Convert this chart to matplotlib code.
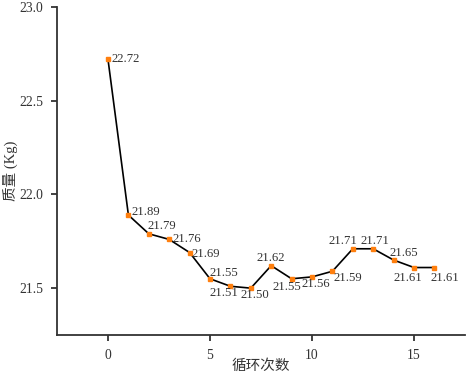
import matplotlib
matplotlib.use("Agg")
import matplotlib.pyplot as plt

plt.rcParams['font.family'] = ['Liberation Serif', 'Noto Sans CJK SC', 'DejaVu Sans']

cycles = list(range(17))
mass = [22.72, 21.89, 21.79, 21.76, 21.69, 21.55, 21.51, 21.50, 21.62,
        21.55, 21.56, 21.59, 21.71, 21.71, 21.65, 21.61, 21.61]
x_label = "循环次数"
y_label = "质量 (Kg)"
x_ticks = [0, 5, 10, 15]
y_ticks = [21.5, 22.0, 22.5, 23.0]

# label placement: (dx, dy in pixels, ha)
place = [
    (3, 0, 'left'),
    (3, 3, 'left'),
    (-1, 8, 'left'),
    (3, 0, 'left'),
    (2, -1, 'left'),
    (0, 6, 'left'),
    (-6, -7, 'center'),
    (4, -7, 'center'),
    (0, 8, 'center'),
    (-5, -8, 'center'),
    (4, -7, 'center'),
    (1, -7, 'left'),
    (-10, 8, 'center'),
    (2, 8, 'center'),
    (-4, 7, 'left'),
    (-6, -10, 'center'),
    (10, -10, 'center'),
]

fig = plt.figure(figsize=(4.72, 3.79), dpi=100)
ax = fig.add_axes([57/472, 1-335/379, (465-57)/472, (335-7)/379])
ax.plot(cycles, mass, color='black', lw=1.2, zorder=2)
ax.plot(cycles, mass, 's', color='#ff7f0e', ms=3, zorder=3)
for x, y, (dx, dy, ha) in zip(cycles, mass, place):
    ax.annotate(f"{y:.2f}", (x, y), xytext=(dx, dy), textcoords='offset pixels',
                ha=ha, va='center', fontsize=9.2, color='#333333')

ax.set_xlim(-2.5, 17.5)
ax.set_ylim(21.25, 23.0)
ax.set_xticks(x_ticks)
ax.set_yticks(y_ticks)
ax.set_yticklabels([f"{v:.1f}" for v in y_ticks])
for s in ['top', 'right']:
    ax.spines[s].set_visible(False)
for s in ['left', 'bottom']:
    ax.spines[s].set_color('#333333')
    ax.spines[s].set_linewidth(1.3)
ax.tick_params(direction='out', length=4, width=1.3, color='#333333',
               labelsize=9.8, labelcolor='#333333', pad=6)
ax.set_xlabel(x_label, fontsize=10.5, color='#333333', labelpad=-2)
ax.set_ylabel(y_label, fontsize=10.5, color='#333333', labelpad=1)
fig.savefig('out.png', dpi=100)
